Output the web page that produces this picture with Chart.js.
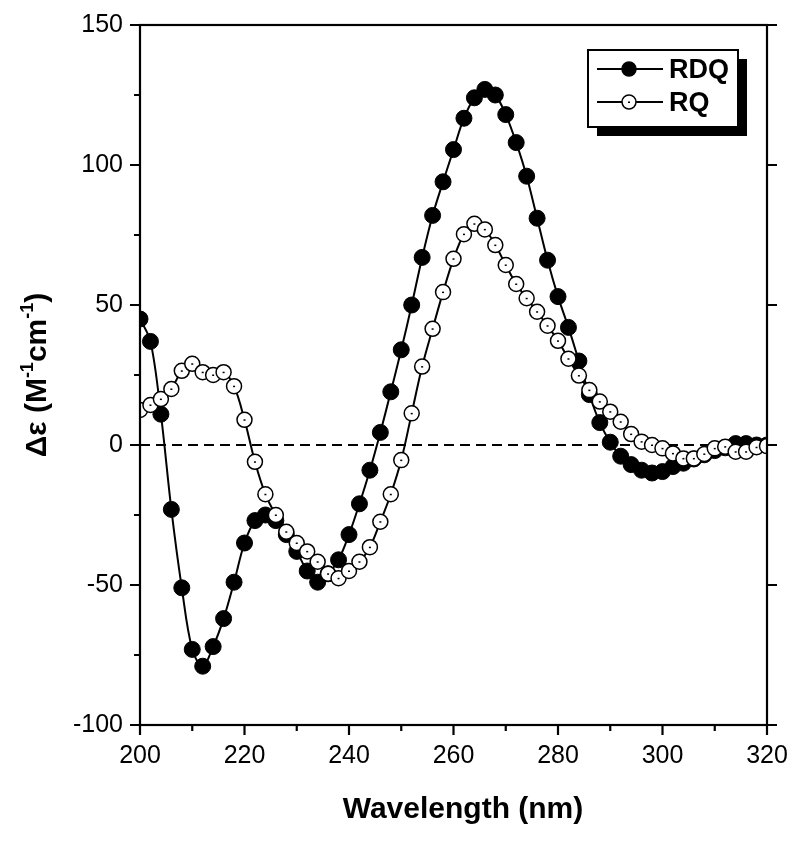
<!DOCTYPE html>
<html>
<head>
<meta charset="utf-8">
<script src="https://cdn.jsdelivr.net/npm/chart.js@4.4.1/dist/chart.umd.min.js"></script>
<style>
  html, body { margin: 0; padding: 0; background: #fff; }
  #wrap { width: 800px; height: 844px; position: relative; }
  canvas { display: block; }
</style>
</head>
<body>
<div id="wrap"><canvas id="cd" width="800" height="844"></canvas></div>
<script>
/* ===== CD-Spektrum RDQ / RQ ===== */
const wavelengths = [];
for (let w = 200; w <= 320; w += 2) wavelengths.push(w);

const rdq = [
  45, 37, 11, -23, -51, -73, -79, -72, -62, -49,
  -35, -27, -25, -27, -32, -38, -45, -49, -46, -41,
  -32, -21, -9, 4.5, 19, 34, 50, 67, 82, 94,
  105.5, 116.7, 124, 127, 125, 118, 108, 96, 81, 66,
  53, 42, 30, 18, 8, 1, -4, -7, -9, -10,
  -9.5, -7.7, -6.5, -5, -3.5, -2, -1, 0.5, 0.5, 0,
  0
];
const rq = [
  12.5, 14.3, 16.4, 20, 26.5, 29, 26, 25, 26, 21,
  9, -6, -17.6, -25, -31, -35, -38, -41.7, -46, -47.6,
  -45, -41.7, -36.5, -27.4, -17.6, -5.4, 11.3, 28, 41.5, 54.6,
  66.5, 75.3, 79, 77, 71.4, 64.3, 57.5, 52.4, 47.6, 42.6,
  37.2, 30.8, 24.8, 19.6, 15.5, 11.9, 8.3, 3.9, 1.2, 0,
  -1.2, -3, -4.8, -4.8, -3.2, -1.2, -0.6, -2.4, -2.4, -0.8,
  -0.4
];
const seriesNames = ['RDQ', 'RQ'];
const xTicks = [200, 220, 240, 260, 280, 300, 320];
const yTicks = [-100, -50, 0, 50, 100, 150];

const FONT = '"Liberation Sans", Arial, sans-serif';

// keine automatische Randpolster für Beschriftungen
const noPad = s => { s.paddingLeft = 0; s.paddingRight = 0; s.paddingTop = 0; s.paddingBottom = 0; };

// Rahmen, Tickmarks, Nulllinie, Achsentitel, Legende
const frame = {
  id: 'frame',
  beforeDatasetsDraw(c) {
    const { ctx, chartArea: a, scales: { y } } = c;
    const y0 = y.getPixelForValue(0);
    ctx.save();
    ctx.strokeStyle = '#000'; ctx.lineWidth = 2; ctx.setLineDash([10, 6]);
    ctx.beginPath(); ctx.moveTo(a.left, y0); ctx.lineTo(a.right, y0); ctx.stroke();
    ctx.restore();
  },
  afterDatasetsDraw(c) {
    const { ctx } = c;
    // Punkt in der Mitte der offenen Kreise
    const meta = c.getDatasetMeta(1);
    ctx.save(); ctx.fillStyle = '#000';
    meta.data.forEach(p => { ctx.fillRect(p.x - 1, p.y - 0.5, 2, 1.5); });
    ctx.restore();
  },
  afterDraw(c) {
    const { ctx, chartArea: a, scales: { x, y } } = c;
    ctx.save();
    ctx.strokeStyle = '#000'; ctx.lineWidth = 2.2; ctx.lineCap = 'butt';
    ctx.strokeRect(a.left, a.top, a.right - a.left, a.bottom - a.top);
    ctx.beginPath();
    y.ticks.forEach(t => {
      const py = y.getPixelForValue(t.value);
      const major = t.value % 50 === 0;
      ctx.moveTo(a.left - (major ? 10 : 6), py); ctx.lineTo(a.left, py);
      if (major) { ctx.moveTo(a.right, py); ctx.lineTo(a.right + 10, py); }
    });
    x.ticks.forEach(t => {
      const px = x.getPixelForValue(t.value);
      const major = t.value % 20 === 0;
      ctx.moveTo(px, a.bottom); ctx.lineTo(px, a.bottom + (major ? 10 : 6));
    });
    ctx.stroke();

    // x-Titel
    ctx.fillStyle = '#000';
    ctx.font = 'bold 30px ' + FONT; ctx.textAlign = 'center'; ctx.textBaseline = 'alphabetic';
    ctx.fillText('Wavelength (nm)', 463, 818);

    // y-Titel mit Hochstellungen
    const parts = [['Δε (M', 0], ['-1', 1], ['cm', 0], ['-1', 1], [')', 0]];
    const big = 'bold 30px ' + FONT, small = 'bold 18px ' + FONT;
    let total = 0;
    parts.forEach(([s, sup]) => { ctx.font = sup ? small : big; total += ctx.measureText(s).width; });
    ctx.translate(46, (a.top + a.bottom) / 2);
    ctx.rotate(-Math.PI / 2);
    ctx.textAlign = 'left';
    let cx = -total / 2;
    parts.forEach(([s, sup]) => {
      ctx.font = sup ? small : big;
      ctx.fillText(s, cx, sup ? -13 : 0);
      cx += ctx.measureText(s).width;
    });
    ctx.restore();

    // Legende mit Schatten
    ctx.save();
    const lx = 588, ly = 50, lw = 150, lh = 77;
    ctx.fillStyle = '#000'; ctx.fillRect(lx + 9, ly + 9, lw, lh);
    ctx.fillStyle = '#fff'; ctx.fillRect(lx, ly, lw, lh);
    ctx.lineWidth = 2; ctx.strokeStyle = '#000'; ctx.strokeRect(lx, ly, lw, lh);
    [[69, true], [102, false]].forEach(([ry, filled], i) => {
      ctx.lineWidth = 2;
      ctx.beginPath(); ctx.moveTo(597, ry); ctx.lineTo(663, ry); ctx.stroke();
      ctx.beginPath(); ctx.arc(629, ry, 7, 0, Math.PI * 2);
      ctx.fillStyle = filled ? '#000' : '#fff'; ctx.fill();
      ctx.lineWidth = 1.5; ctx.stroke();
      if (!filled) { ctx.fillStyle = '#000'; ctx.fillRect(628, ry - 0.5, 2, 1.5); }
      ctx.fillStyle = '#000'; ctx.font = 'bold 27px ' + FONT;
      ctx.textAlign = 'left'; ctx.textBaseline = 'middle';
      ctx.fillText(seriesNames[i], 669, ry + 2);
    });
    ctx.restore();
  },
};

new Chart(document.getElementById('cd'), {
  type: 'line',
  data: {
    labels: wavelengths,
    datasets: [
      {
        label: seriesNames[0], data: wavelengths.map((w, i) => ({ x: w, y: rdq[i] })),
        borderColor: '#000', borderWidth: 2, tension: 0.35,
        pointRadius: 8, pointBackgroundColor: '#000', pointBorderColor: '#000', pointBorderWidth: 1,
        order: 2,
      },
      {
        label: seriesNames[1], data: wavelengths.map((w, i) => ({ x: w, y: rq[i] })),
        borderColor: '#000', borderWidth: 2, tension: 0.35,
        pointRadius: 7.5, pointBackgroundColor: '#fff', pointBorderColor: '#000', pointBorderWidth: 1.5,
        order: 1,
      },
    ],
  },
  options: {
    responsive: false, animation: false,
    layout: { padding: { top: 25, left: 0, right: 0, bottom: 0 } },
    plugins: { legend: { display: false }, tooltip: { enabled: false } },
    scales: {
      x: {
        type: 'linear', min: 200, max: 320,
        afterFit: s => { s.height = 119; noPad(s); },
        grid: { display: false }, border: { display: false },
        ticks: {
          stepSize: 10, padding: 8, maxRotation: 0, autoSkip: false,
          color: '#000', font: { family: FONT, size: 25 },
          callback: v => xTicks.includes(v) ? String(v) : '',
        },
      },
      y: {
        min: -100, max: 150,
        afterFit: s => { s.width = 140; noPad(s); },
        grid: { display: false }, border: { display: false },
        ticks: {
          stepSize: 25, padding: 9, autoSkip: false,
          color: '#000', font: { family: FONT, size: 25 },
          callback: v => yTicks.includes(v) ? String(v) : '',
        },
      },
      y2: {
        position: 'right', min: -100, max: 150,
        afterFit: s => { s.width = 33; noPad(s); },
        grid: { display: false }, border: { display: false },
        ticks: { display: false },
      },
    },
  },
  plugins: [frame],
});
</script>
</body>
</html>
